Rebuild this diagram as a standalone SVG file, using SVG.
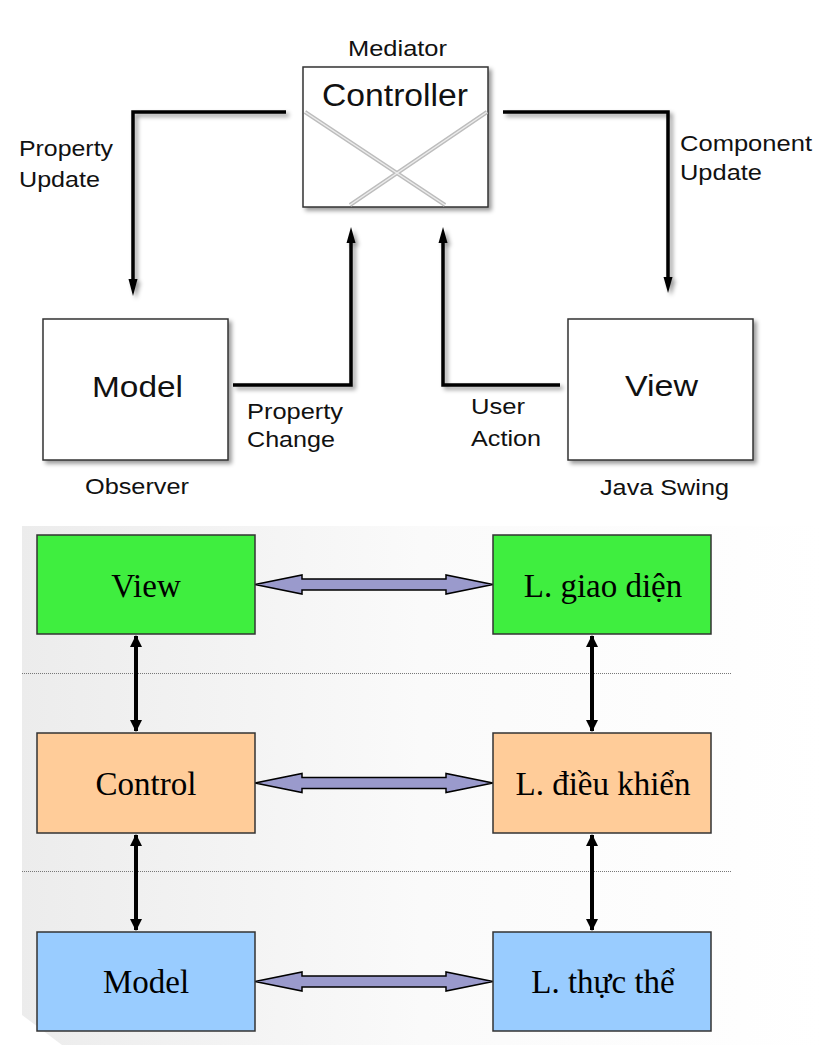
<svg xmlns="http://www.w3.org/2000/svg" width="822" height="1054" viewBox="0 0 822 1054">
<defs>
<filter id="sh" x="-10%" y="-10%" width="130%" height="130%">
<feDropShadow dx="3" dy="3" stdDeviation="2" flood-color="#000" flood-opacity="0.4"/>
</filter>
<linearGradient id="bg" x1="0" y1="0" x2="1" y2="0">
<stop offset="0" stop-color="#ececec"/>
<stop offset="0.5" stop-color="#fafafa"/>
<stop offset="1" stop-color="#ffffff"/>
</linearGradient>
<marker id="ah" viewBox="0 0 12 12" refX="11" refY="6" markerWidth="12" markerHeight="12" markerUnits="userSpaceOnUse" orient="auto-start-reverse">
<path d="M0,0 L12,6 L0,12 z" fill="#000"/>
</marker>
</defs>
<style>
.sans{font-family:"Liberation Sans",Arial,sans-serif;fill:#111}
.lbl{font-size:22px}
.big{font-size:30px}
.serif{font-family:"Liberation Serif","Times New Roman",serif;font-size:33px;fill:#000}
.tbox{fill:#fff;stroke:#333;stroke-width:1.5}
.line{fill:none;stroke:#000;stroke-width:3.5}
.head{fill:#000}
.xl1{stroke:#bdbdbd;stroke-width:4;fill:none}
.xl2{stroke:#ececec;stroke-width:1.5;fill:none}
.bbox{stroke:#333;stroke-width:1.5}
.pa{fill:#9a9acc;stroke:#000;stroke-width:1.5}
.va{stroke:#000;stroke-width:4;fill:none}
.dot{stroke:#777;stroke-width:1;stroke-dasharray:1 1;fill:none}
</style>

<!-- top diagram -->
<g id="controller">
<rect class="tbox" x="303" y="67" width="185" height="140" filter="url(#sh)"/>
<path class="xl1" d="M305,112 L445,205 M487,112 L350,205"/>
<path class="xl2" d="M305,112 L445,205 M487,112 L350,205"/>
<text class="sans" x="322" y="106" textLength="146" lengthAdjust="spacingAndGlyphs" style="font-size:31px">Controller</text>
<text class="sans lbl" x="348" y="56" textLength="99" lengthAdjust="spacingAndGlyphs">Mediator</text>
</g>
<g id="model-top">
<rect class="tbox" x="43" y="319" width="185" height="141" filter="url(#sh)"/>
<text class="sans big" x="92" y="397" textLength="91" lengthAdjust="spacingAndGlyphs">Model</text>
<text class="sans lbl" x="85" y="494" textLength="104" lengthAdjust="spacingAndGlyphs">Observer</text>
</g>
<g id="view-top">
<rect class="tbox" x="568" y="319" width="185" height="141" filter="url(#sh)"/>
<text class="sans big" x="625" y="396" textLength="73" lengthAdjust="spacingAndGlyphs">View</text>
<text class="sans lbl" x="600" y="495" textLength="129" lengthAdjust="spacingAndGlyphs">Java Swing</text>
</g>
<g id="connectors-top">
<g filter="url(#sh)">
<path class="line" d="M286,112 H133 V282"/>
<path class="head" d="M128.5,279 L137.5,279 L133,296 z"/>
<path class="line" d="M503,112 H668 V280"/>
<path class="head" d="M663.5,277 L672.5,277 L668,293 z"/>
<path class="line" d="M233,385 H351 V240"/>
<path class="head" d="M346.5,243 L355.5,243 L351,227 z"/>
<path class="line" d="M560,385 H443 V240"/>
<path class="head" d="M438.5,243 L447.5,243 L443,227 z"/>
</g>
<text class="sans lbl" x="19" y="156" textLength="94" lengthAdjust="spacingAndGlyphs">Property</text>
<text class="sans lbl" x="19" y="187" textLength="81" lengthAdjust="spacingAndGlyphs">Update</text>
<text class="sans lbl" x="680" y="151" textLength="132" lengthAdjust="spacingAndGlyphs">Component</text>
<text class="sans lbl" x="680" y="180" textLength="82" lengthAdjust="spacingAndGlyphs">Update</text>
<text class="sans lbl" x="247" y="419" textLength="96" lengthAdjust="spacingAndGlyphs">Property</text>
<text class="sans lbl" x="247" y="447" textLength="88" lengthAdjust="spacingAndGlyphs">Change</text>
<text class="sans lbl" x="471" y="414" textLength="54" lengthAdjust="spacingAndGlyphs">User</text>
<text class="sans lbl" x="471" y="446" textLength="70" lengthAdjust="spacingAndGlyphs">Action</text>
</g>

<!-- bottom diagram -->
<polygon points="22,526 822,526 822,1045 62,1045 22,1015" fill="url(#bg)"/>
<path class="dot" d="M22,673.5 H731 M22,871.5 H731"/>

<g id="connectors-bottom">
<path class="pa" d="M255,584.5 L302,575 L302,579 L446,579 L446,575 L493,584.5 L446,594 L446,590 L302,590 L302,594 z"/>
<path class="pa" d="M255,783 L302,773.5 L302,777.5 L446,777.5 L446,773.5 L493,783 L446,792.5 L446,788.5 L302,788.5 L302,792.5 z"/>
<path class="pa" d="M255,981.5 L302,972 L302,976 L446,976 L446,972 L493,981.5 L446,991 L446,987 L302,987 L302,991 z"/>
<path class="va" d="M136,636 V731" marker-start="url(#ah)" marker-end="url(#ah)"/>
<path class="va" d="M136,835 V930" marker-start="url(#ah)" marker-end="url(#ah)"/>
<path class="va" d="M592,636 V731" marker-start="url(#ah)" marker-end="url(#ah)"/>
<path class="va" d="M592,835 V930" marker-start="url(#ah)" marker-end="url(#ah)"/>
</g>

<g id="view">
<rect class="bbox" x="37" y="535" width="218" height="99" fill="#3fee3f"/>
<text class="serif" x="146" y="597" text-anchor="middle">View</text>
</g>
<g id="l-giao-dien">
<rect class="bbox" x="493" y="535" width="218" height="99" fill="#3fee3f"/>
<text class="serif" x="603" y="597" text-anchor="middle">L. giao diện</text>
</g>
<g id="control">
<rect class="bbox" x="37" y="733" width="218" height="100" fill="#ffcc99"/>
<text class="serif" x="146" y="795" text-anchor="middle">Control</text>
</g>
<g id="l-dieu-khien">
<rect class="bbox" x="493" y="733" width="218" height="100" fill="#ffcc99"/>
<text class="serif" x="603" y="795" text-anchor="middle">L. điều khiển</text>
</g>
<g id="model">
<rect class="bbox" x="37" y="932" width="218" height="99" fill="#99ccff"/>
<text class="serif" x="146" y="993" text-anchor="middle">Model</text>
</g>
<g id="l-thuc-the">
<rect class="bbox" x="493" y="932" width="218" height="99" fill="#99ccff"/>
<text class="serif" x="603" y="993" text-anchor="middle">L. thực thể</text>
</g>
</svg>
